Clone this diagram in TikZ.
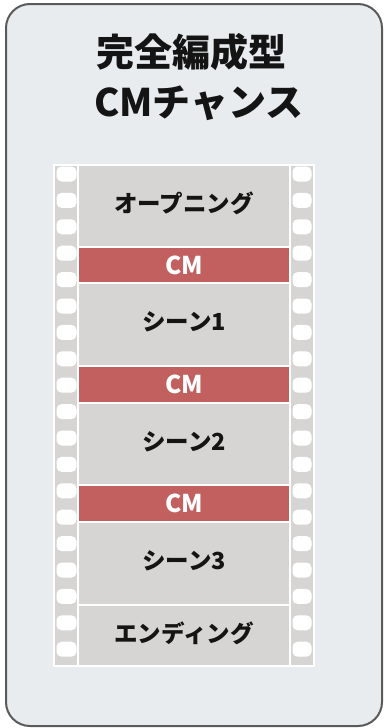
\documentclass[tikz,border=0pt]{standalone}
\usepackage{fontspec}
\setmainfont{Noto Sans CJK JP}
\definecolor{bgc}{HTML}{E8ECEE}
\definecolor{borderc}{HTML}{5A5A5A}
\definecolor{filmc}{HTML}{D6D5D3}
\definecolor{cmred}{HTML}{C25F5F}
\definecolor{txt}{HTML}{141414}
\newcommand{\liftlabel}[1]{\raisebox{2.5pt}[\height][\depth]{#1}}
\tikzset{
  scenebox/.style={fill=filmc, minimum width=210pt, inner sep=0pt, text=txt,
    font=\fontsize{23.5}{26}\selectfont\bfseries},
  cmbox/.style={fill=cmred, minimum width=210pt, inner sep=0pt, text=white,
    font=\fontsize{24.5}{26}\selectfont\bfseries},
  hole/.style={fill=white, rounded corners=5pt},
  titletext/.style={text=txt, inner sep=0pt, font=\fontsize{38}{42}\selectfont\bfseries}
}
\begin{document}
\begin{tikzpicture}[x=1pt,y=-1pt]
\useasboundingbox (0,0) rectangle (386,728);
\fill[white] (0,0) rectangle (386,728);
\draw[line width=2pt, draw=borderc, fill=bgc, rounded corners=24pt] (6,4) rectangle (382,726);
% title
\node[titletext] (t1) at (191,52) {完全編成型};
\node[titletext] (t2) at (199,103) {CMチャンス};
% film frame
\fill[white] (53,164) rectangle (315,667);
\fill[filmc] (55,166) rectangle (77,665);
\fill[filmc] (291,166) rectangle (313,665);
\foreach \i in {0,...,18} {
  \fill[hole] (56.5,{166.5+26.4*\i}) rectangle ++(20,15);
  \fill[hole] (292.5,{166.5+26.4*\i}) rectangle ++(19,15);
}
% contents
\node[scenebox, minimum height=80pt] (op) at (184,206) {\liftlabel{オープニング}};
\node[cmbox, minimum height=34pt] (cm1) at (184,265) {CM};
\node[scenebox, minimum height=81pt] (s1) at (184,324.5) {\liftlabel{シーン1}};
\node[cmbox, minimum height=35pt] (cm2) at (184,384.5) {CM};
\node[scenebox, minimum height=80pt] (s2) at (184,444) {\liftlabel{シーン2}};
\node[cmbox, minimum height=35pt] (cm3) at (184,503.5) {CM};
\node[scenebox, minimum height=81pt] (s3) at (184,563.5) {\liftlabel{シーン3}};
\node[scenebox, minimum height=59pt] (ed) at (184,635.5) {\liftlabel{エンディング}};
\end{tikzpicture}
\end{document}
